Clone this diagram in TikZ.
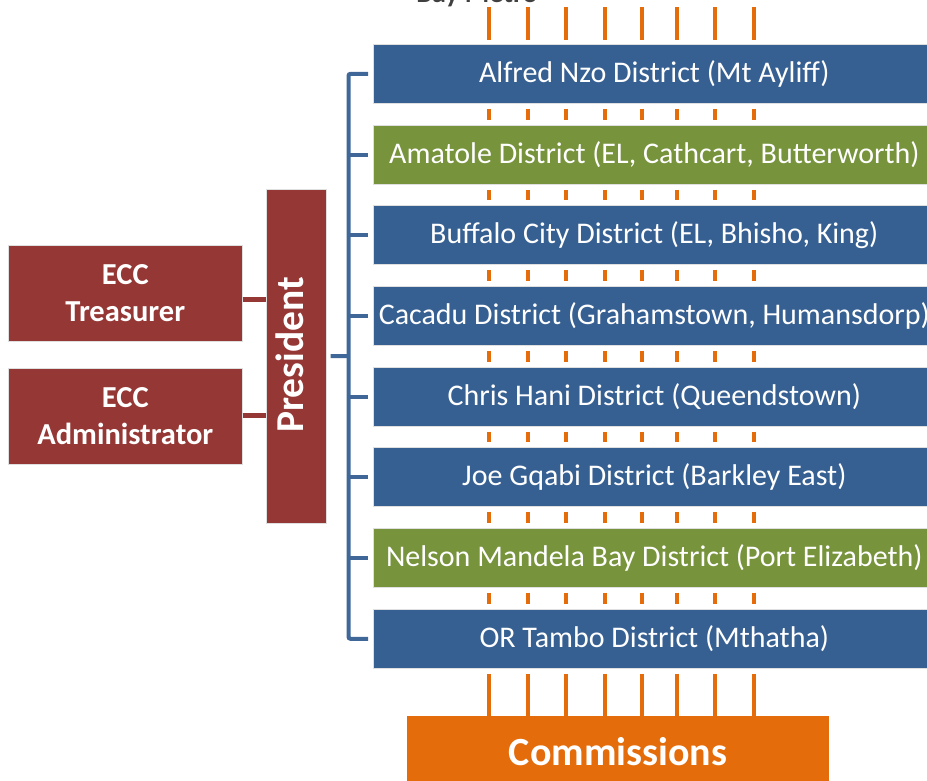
\documentclass[tikz,border=0pt]{standalone}
\usepackage{fontspec}
\setmainfont{Carlito}
\definecolor{dblue}{HTML}{376092}
\definecolor{dgreen}{HTML}{77933C}
\definecolor{dred}{HTML}{953735}
\definecolor{dorange}{HTML}{E46C0A}
\definecolor{lblue}{HTML}{3F6899}
\definecolor{dgray}{HTML}{404040}
\begin{document}
\begin{tikzpicture}[x=1pt,y=-1pt,
  district/.style={anchor=north west, minimum width=562pt, minimum height=59pt,
    inner sep=0pt, text=white, font=\fontsize{30}{36}\selectfont,
    draw=white!75!gray, line width=0.6pt},
  eccbox/.style={anchor=north west, minimum width=234pt, minimum height=96pt,
    inner sep=0pt, fill=dred, text=white, align=center,
    font=\bfseries\fontsize{30.5}{37}\selectfont, draw=white!75!gray, line width=0.6pt},
  presbox/.style={anchor=north west, minimum width=60pt, minimum height=334pt, inner sep=0pt,
    fill=dred, text=white, draw=white!75!gray, line width=0.6pt},
  commbox/.style={anchor=north west, minimum width=422pt, minimum height=75pt,
    inner sep=0pt, fill=dorange},
  tickline/.style={draw=dorange, line width=4.8pt},
  bracket/.style={draw=lblue, line width=4pt},
  redlink/.style={draw=dred, line width=5pt},
]
\useasboundingbox (0,0) rectangle (927,781);

% district boxes
\node[district, fill=dblue]  (d1) at (373,44)  {Alfred Nzo District (Mt Ayliff)};
\node[district, fill=dgreen] (d2) at (373,125) {Amatole District (EL, Cathcart, Butterworth)};
\node[district, fill=dblue]  (d3) at (373,205) {Buffalo City District (EL, Bhisho, King)};
\node[district, fill=dblue]  (d4) at (373,286) {Cacadu District (Grahamstown, Humansdorp)};
\node[district, fill=dblue]  (d5) at (373,367) {Chris Hani District (Queendstown)};
\node[district, fill=dblue]  (d6) at (373,447) {Joe Gqabi District (Barkley East)};
\node[district, fill=dgreen] (d7) at (373,528) {Nelson Mandela Bay District (Port Elizabeth)};
\node[district, fill=dblue]  (d8) at (373,609) {OR Tambo District (Mthatha)};

% commissions
\node[commbox] (comm) at (407,716) {};
\node[text=white, font=\bfseries\fontsize{40}{46}\selectfont, anchor=base] (commt) at (618,765) {Commissions};

% cut-off label at the top
\node[text=dgray, font=\bfseries\fontsize{28}{34}\selectfont, anchor=base] (bay) at (477,3) {Bay Metro};

% president and ECC boxes
\node[presbox] (pres) at (266,189) {};
\node[text=white, font=\bfseries\fontsize{39.5}{44}\selectfont, rotate=90, anchor=base] (prest) at (303.5,355) {President};
\node[eccbox] (treas) at (8,245) {ECC\\Treasurer};
\node[eccbox] (admin) at (8,368) {ECC\\Administrator};

% red links
\draw[redlink] ([yshift=-6pt]treas.east) -- ([yshift=-6pt]treas.east -| pres.west);
\draw[redlink] ([yshift=1pt]admin.east) -- ([yshift=1pt]admin.east -| pres.west);

% blue bracket
\coordinate (bx) at (348.5,356);
\draw[bracket, rounded corners=2pt, shorten <=5pt, shorten >=5pt] (d1.west) -| (bx) |- (d8.west);
\foreach \i in {2,...,7}{
  \draw[bracket, shorten <=5pt] (d\i.west) -- (d\i.west -| bx);
}
\draw[bracket, shorten <=4pt] (pres.east) -- (bx);

% orange ticks
\foreach \x [count=\k] in {489,528,566,605,642,677,715,754}{
  \coordinate (t\k) at (\x,7);
  \draw[tickline, shorten >=4pt] (t\k) -- (d1.north -| t\k);
  \foreach \i [evaluate=\i as \j using int(\i+1)] in {1,...,7}{
    \draw[tickline, shorten <=5pt, shorten >=5pt] (d\i.south -| t\k) -- (d\j.north -| t\k);
  }
  \draw[tickline, shorten <=5pt] (d8.south -| t\k) -- (comm.north -| t\k);
}
\end{tikzpicture}
\end{document}
